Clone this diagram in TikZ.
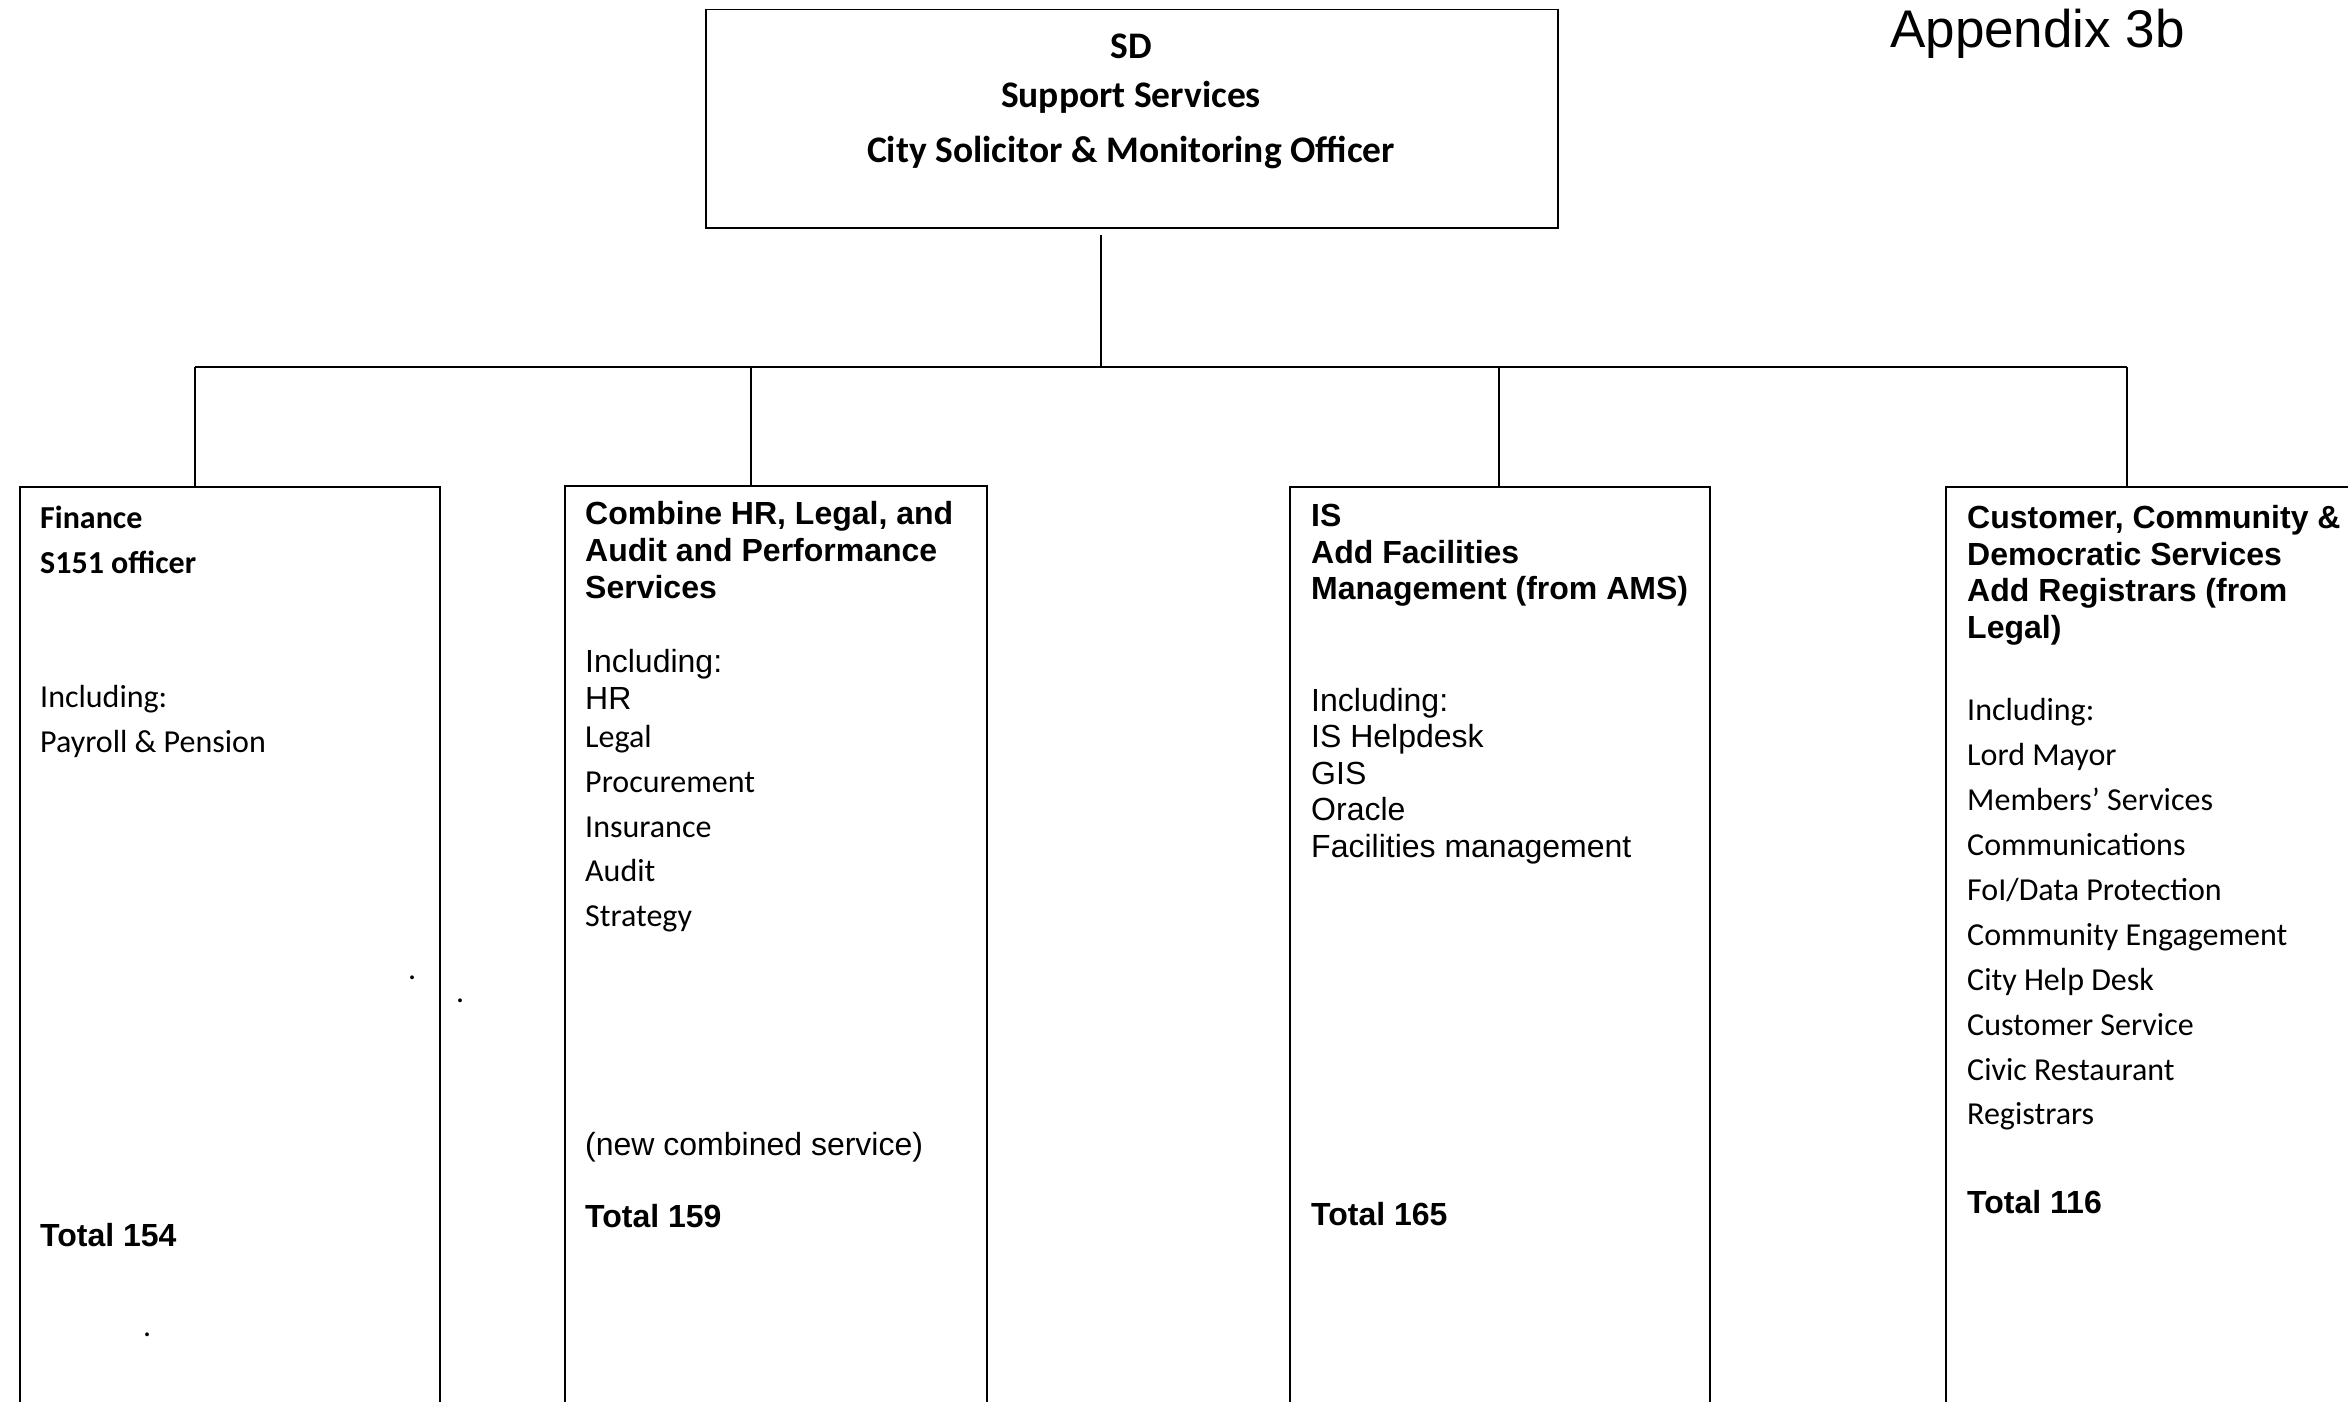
\documentclass[tikz,border=0pt]{standalone}
\usepackage{fontspec}
\setmainfont{Liberation Sans}
\newfontfamily\calfont{Carlito}
\newfontfamily\arialfont{Liberation Sans}
\tikzset{
  box/.style={draw, line width=1.5pt, rectangle, inner sep=0pt, anchor=north west},
  conn/.style={line width=1.5pt},
  cal/.style={font=\calfont\fontsize{32}{45}\selectfont, anchor=base west, inner sep=0pt},
  calb/.style={font=\calfont\bfseries\fontsize{32}{45}\selectfont, anchor=base west, inner sep=0pt},
  ar/.style={font=\arialfont\fontsize{32}{37}\selectfont, anchor=base west, inner sep=0pt},
  arb/.style={font=\arialfont\bfseries\fontsize{32}{37}\selectfont, anchor=base west, inner sep=0pt},
  toptxt/.style={font=\calfont\bfseries\fontsize{37.5}{50}\selectfont, anchor=base, inner sep=0pt},
}
\begin{document}
\begin{tikzpicture}[x=1pt,y=-1pt]
\useasboundingbox (0,0) rectangle (2348,1402);
\clip (0,0) rectangle (2348,1402);
\fill[white] (0,0) rectangle (2348,1402);

% title
\node[font=\arialfont\fontsize{53}{60}\selectfont, anchor=base west, inner sep=0pt] (app) at (1890,48) {Appendix 3b};

% top box
\node[box, minimum width=852pt, minimum height=218pt] (top) at (705,9) {};
\node[toptxt] (t1) at (1131,59) {SD};
\node[toptxt] (t2) at (1131,108) {Support Services};
\node[toptxt] (t3) at (1131,162) {City Solicitor \& Monitoring Officer};

% boxes
\node[box, minimum width=420pt, minimum height=960pt] (fin) at (19,486) {};
\node[box, minimum width=422pt, minimum height=960pt] (hr) at (564,485) {};
\node[box, minimum width=420pt, minimum height=960pt] (is) at (1289,486) {};
\node[box, minimum width=520pt, minimum height=960pt] (cust) at (1945,486) {};

% connectors
\coordinate (stem) at (1101,235);
\coordinate (hub) at (1101,367);
\coordinate (b1) at (195,367);
\coordinate (b2) at (751,367);
\coordinate (b3) at (1499,367);
\coordinate (b4) at (2127,367);
\draw[conn] (stem) -- (hub);
\draw[conn] (b1) -- (b4);
\draw[conn] (b1) -- (b1 |- fin.north);
\draw[conn] (b2) -- (b2 |- hr.north);
\draw[conn] (b3) -- (b3 |- is.north);
\draw[conn] (b4) -- (b4 |- cust.north);

% Finance
\node[calb] (f1) at (40,528) {Finance};
\node[calb] (f2) at (40,573) {S151 officer};
\node[cal] (f3) at (40,707) {Including:};
\node[cal] (f4) at (40,752) {Payroll \& Pension};
\node[arb] (f5) at (40,1246) {Total 154};
\node[cal] (d1) at (408,979) {.};
\node[cal] (d2) at (456,1002) {.};
\node[cal] (d3) at (143,1336) {.};

% HR / Legal
\node[arb] (h1) at (585,524) {Combine HR, Legal, and};
\node[arb] (h2) at (585,561) {Audit and Performance};
\node[arb] (h3) at (585,598) {Services};
\node[ar] (h4) at (585,672) {Including:};
\node[ar] (h5) at (585,709) {HR};
\node[cal] (h6) at (585,747) {Legal};
\node[cal] (h7) at (585,792) {Procurement};
\node[cal] (h8) at (585,837) {Insurance};
\node[cal] (h9) at (585,881) {Audit};
\node[cal] (h10) at (585,926) {Strategy};
\node[ar] (h11) at (585,1155) {(new combined service)};
\node[arb] (h12) at (585,1227) {Total 159};

% IS
\node[arb] (i1) at (1311,526) {IS};
\node[arb] (i2) at (1311,563) {Add Facilities};
\node[arb] (i3) at (1311,599) {Management (from AMS)};
\node[ar] (i4) at (1311,711) {Including:};
\node[ar] (i5) at (1311,747) {IS Helpdesk};
\node[ar] (i6) at (1311,784) {GIS};
\node[ar] (i7) at (1311,820) {Oracle};
\node[ar] (i8) at (1311,857) {Facilities management};
\node[arb] (i9) at (1311,1225) {Total 165};

% Customer
\node[arb] (c1) at (1967,528) {Customer, Community \&};
\node[arb] (c2) at (1967,565) {Democratic Services};
\node[arb] (c3) at (1967,601) {Add Registrars (from};
\node[arb] (c4) at (1967,638) {Legal)};
\node[cal] (c5) at (1967,720) {Including:};
\node[cal] (c6) at (1967,765) {Lord Mayor};
\node[cal] (c7) at (1967,810) {Members’ Services};
\node[cal] (c8) at (1967,855) {Communications};
\node[cal] (c9) at (1967,900) {FoI/Data Protection};
\node[cal] (c10) at (1967,945) {Community Engagement};
\node[cal] (c11) at (1967,990) {City Help Desk};
\node[cal] (c12) at (1967,1035) {Customer Service};
\node[cal] (c13) at (1967,1080) {Civic Restaurant};
\node[cal] (c14) at (1967,1124) {Registrars};
\node[arb] (c15) at (1967,1213) {Total 116};
\end{tikzpicture}
\end{document}
